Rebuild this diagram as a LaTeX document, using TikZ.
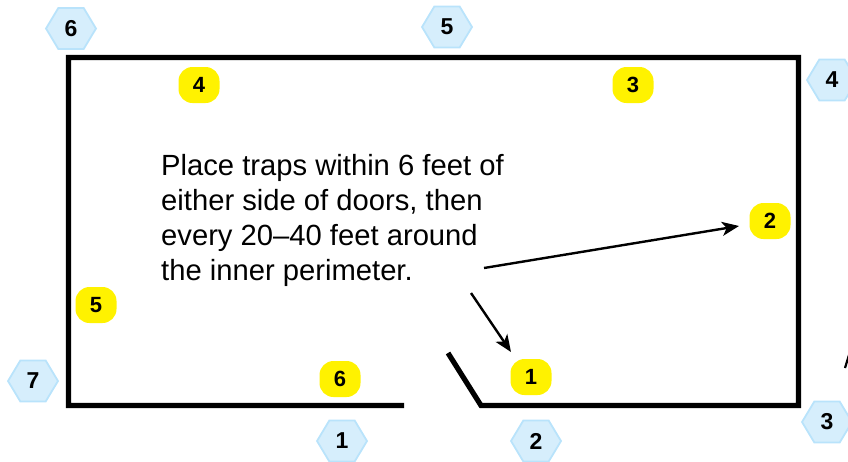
\documentclass[tikz,border=0pt]{standalone}
\usepackage{fontspec}
\setmainfont{Liberation Sans}
\usetikzlibrary{shapes.symbols,arrows.meta}
\definecolor{hexfill}{HTML}{D6EEFC}
\definecolor{hexline}{HTML}{B9E3FB}
\definecolor{tagyellow}{HTML}{FFF200}
\tikzset{
  hexmark/.style={signal, signal to=east and west, signal pointer angle=118, draw=hexline, fill=hexfill, line width=1.8pt,
    minimum width=50pt, minimum height=41pt, inner sep=0pt, font=\fontsize{23}{23}\selectfont\bfseries},
  tag/.style={rectangle, rounded corners=14pt, fill=tagyellow, minimum width=41pt, minimum height=36pt, inner sep=0pt,
    font=\fontsize{22}{22}\selectfont\bfseries},
  wall/.style={line width=5.2pt, black},
  pointer/.style={line width=2.4pt, -{Stealth[length=17pt,width=14pt,inset=4.5pt]}},
  note/.style={align=left, anchor=north west, inner sep=0pt, font=\fontsize{29.2}{35}\selectfont}
}
\begin{document}
\begin{tikzpicture}[x=1pt,y=-1pt]
\useasboundingbox (0,0) rectangle (848,461);
\clip (0,0) rectangle (848,461);
\coordinate (wallstart) at (404,405.5);
\coordinate (hinge) at (481,405.5);
\coordinate (doorend) at (448,353);
\draw[wall] (wallstart) -- (68.5,405.5) -- (68.5,57.5) -- (798.5,57.5) -- (798.5,405.5) -- (hinge) -- (doorend);
\node[note] (txt) at (161,154.5) {Place traps within 6 feet of\\either side of doors, then\\every 20–40 feet around\\the inner perimeter.};
\node[hexmark] (h6) at (71,28.5) {6};
\node[hexmark] (h5) at (447,27) {5};
\node[hexmark] (h4) at (832,80) {4};
\node[hexmark] (h7) at (33,381) {7};
\node[hexmark] (h1) at (342,441) {1};
\node[hexmark] (h2) at (536,441) {2};
\node[hexmark] (h3) at (827,422) {3};
\node[tag] (t4) at (199,85) {4};
\node[tag] (t3) at (633,85) {3};
\node[tag] (t2) at (770,221) {2};
\node[tag] (t5) at (96,305) {5};
\node[tag] (t6) at (340,379) {6};
\node[tag] (t1) at (531,377) {1};
\coordinate (a2s) at (484,268);
\coordinate (a2e) at (739,226);
\coordinate (a1s) at (471,293);
\coordinate (a1e) at (511,352);
\draw[pointer] (a2s) -- (a2e);
\draw[pointer] (a1s) -- (a1e);
\coordinate (st) at (845,368);
\coordinate (se) at (849,355);
\draw[line width=2.2pt] (st) -- (se);
\end{tikzpicture}
\end{document}
